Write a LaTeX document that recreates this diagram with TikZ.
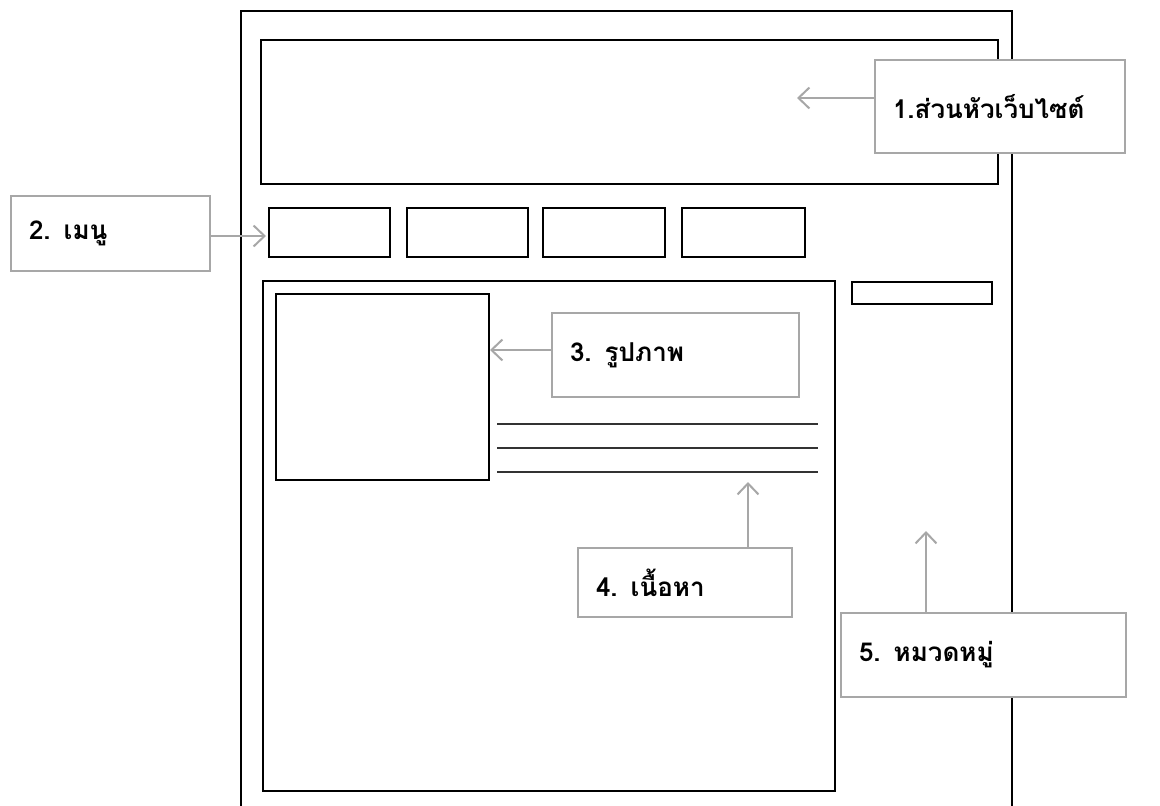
\documentclass[tikz,border=0pt]{standalone}
\usepackage{fontspec}
\newfontfamily\thaifont[Script=Thai]{Loma}
\usepackage{tikz}
\usetikzlibrary{arrows.meta,positioning}

\begin{document}
\begin{tikzpicture}[x=1pt,y=-1pt]
        %styles
        \tikzstyle{frame}=[rectangle, draw=black, line width=2pt, inner sep=0pt]
        \tikzstyle{textline}=[draw={rgb:black,4;white,1}, line width=1.1pt]
        \tikzstyle{callout}=[rectangle, draw={rgb:black,1;white,1.9}, line width=2pt, fill=white, inner xsep=18pt, inner ysep=0pt, align=left, font=\thaifont\bfseries\fontsize{26}{30}\selectfont]
        \tikzstyle{pointer}=[-{Straight Barb[length=11pt,width=21pt]}, draw={rgb:black,1;white,1.9}, line width=2pt]

        \useasboundingbox (0,0) rectangle (1160,806);

        %layout
        \node[frame, minimum width=771pt, minimum height=818pt] (page) at (626.5,420) {};
        \node[frame, minimum width=737pt, minimum height=144pt] (header) at (629.5,112) {};
        \node[frame, minimum width=121pt, minimum height=49pt] (m1) at (329.5,232.5) {};
        \node[frame, minimum width=121pt, minimum height=49pt] (m2) at (467.5,232.5) {};
        \node[frame, minimum width=122pt, minimum height=49pt] (m3) at (604,232.5) {};
        \node[frame, minimum width=123pt, minimum height=49pt] (m4) at (743.5,232.5) {};
        \node[frame, minimum width=572pt, minimum height=510pt] (content) at (549,536) {};
        \node[frame, minimum width=140pt, minimum height=22pt] (side) at (922,293) {};
        \node[frame, minimum width=213pt, minimum height=186pt] (pic) at (382.5,387) {};

        \draw[textline] (497,424) -- (818,424);
        \draw[textline] (497,448) -- (818,448);
        \draw[textline] (497,472) -- (818,472);

        %labels
        \node[callout, minimum width=250pt, minimum height=93pt, text width=214pt] (l1) at (1000,106.5) {1.ส่วนหัวเว็บไซต์};
        \node[callout, minimum width=199pt, minimum height=75pt, text width=163pt] (l2) at (110.5,233.5) {2. เมนู};
        \node[callout, minimum width=247pt, minimum height=84pt, text width=211pt] (l3) at (675.5,355) {3. รูปภาพ};
        \node[callout, minimum width=214pt, minimum height=69pt, text width=178pt] (l4) at (685,582.5) {4. เนื้อหา};
        \node[callout, minimum width=285pt, minimum height=84pt, text width=249pt] (l5) at (983.5,655) {5. หมวดหมู่};

        \coordinate (t1) at (797,98);
        \coordinate (t2) at (266,236);
        \coordinate (t3) at (490,350);
        \coordinate (t4) at (748,482);
        \coordinate (t5) at (926,531);

        %arrows
        \draw[pointer] (l1.west |- t1) -- (t1);
        \draw[pointer] (l2.east |- t2) -- (t2);
        \draw[pointer] (l3.west |- t3) -- (t3);
        \draw[pointer] (t4 |- l4.north) -- (t4);
        \draw[pointer] (t5 |- l5.north) -- (t5);
\end{tikzpicture}
\end{document}
